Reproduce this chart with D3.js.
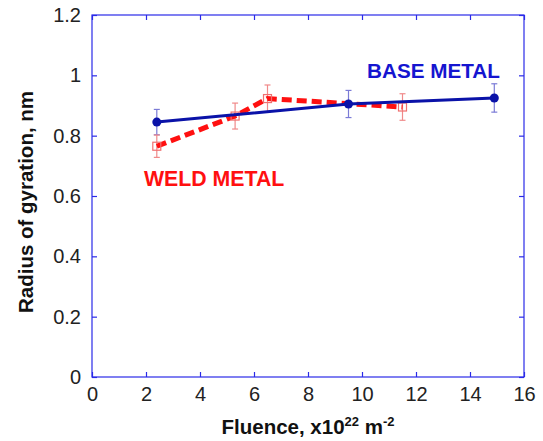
<!DOCTYPE html>
<html><head><meta charset="utf-8">
<script src="https://cdn.jsdelivr.net/npm/d3@7"></script>
<style>body{margin:0;background:#fff}svg{display:block}</style>
</head><body>
<script>
const xTicks = [0,2,4,6,8,10,12,14,16];
const yTicks = [0,0.2,0.4,0.6,0.8,1,1.2];
const yTickLabels = ["0","0.2","0.4","0.6","0.8","1","1.2"];
const baseX = [2.4, 9.5, 14.9];
const baseY = [0.845, 0.905, 0.925];
const baseErr = [0.042, 0.045, 0.047];
const weldX = [2.4, 5.3, 6.5, 11.5];
const weldY = [0.765, 0.865, 0.923, 0.895];
const weldErr = [0.037, 0.043, 0.045, 0.044];

const W = 543, H = 441;
const m = {l:92, r:19, t:15, b:64};
const svg = d3.select("body").append("svg").attr("width",W).attr("height",H);
const x = d3.scaleLinear().domain([0,16]).range([m.l, W-m.r]);
const y = d3.scaleLinear().domain([0,1.2]).range([H-m.b, m.t]);
const frame = "#2a2ae8";
const font = "Arial, 'Liberation Sans', sans-serif";

svg.append("rect").attr("x",x(0)).attr("y",y(1.2)).attr("width",x(16)-x(0)).attr("height",y(0)-y(1.2))
  .attr("fill","none").attr("stroke",frame).attr("stroke-width",1.2);

const ax = (g)=>{g.selectAll(".domain").remove(); g.selectAll("line").attr("stroke",frame).attr("stroke-width",1.2);};
svg.append("g").attr("transform",`translate(0,${y(0)})`).call(d3.axisBottom(x).tickValues(xTicks).tickSize(-5).tickPadding(10).tickFormat(d3.format("d"))).call(ax)
  .selectAll("text").attr("font-size",20).attr("font-family",font).attr("fill","#222");
svg.append("g").attr("transform",`translate(0,${y(1.2)})`).call(d3.axisTop(x).tickValues(xTicks).tickSize(-5).tickFormat("")).call(ax);
svg.append("g").attr("transform",`translate(${x(0)},0)`).call(d3.axisLeft(y).tickValues(yTicks).tickSize(-5).tickPadding(11).tickFormat((d,i)=>yTickLabels[i])).call(ax)
  .selectAll("text").attr("font-size",20).attr("font-family",font).attr("fill","#222");
svg.append("g").attr("transform",`translate(${x(16)},0)`).call(d3.axisRight(y).tickValues(yTicks).tickSize(-5).tickFormat("")).call(ax);

const base = baseX.map((v,i)=>({x:v,y:baseY[i],e:baseErr[i]}));
const weld = weldX.map((v,i)=>({x:v,y:weldY[i],e:weldErr[i]}));

function errBars(data, color){
  const g = svg.append("g").attr("stroke",color).attr("stroke-width",1.2);
  data.forEach(d=>{
    g.append("line").attr("x1",x(d.x)).attr("x2",x(d.x)).attr("y1",y(d.y-d.e)).attr("y2",y(d.y+d.e));
    [d.y-d.e,d.y+d.e].forEach(v=>g.append("line").attr("x1",x(d.x)-3).attr("x2",x(d.x)+3).attr("y1",y(v)).attr("y2",y(v)));
  });
}
errBars(base,"#7b7bd6");
errBars(weld,"#f08a8a");

const line = d3.line().x(d=>x(d.x)).y(d=>y(d.y));
svg.append("path").datum(weld).attr("d",line).attr("fill","none").attr("stroke","#ff1010").attr("stroke-width",5).attr("stroke-dasharray","10,5");
svg.selectAll(".sq").data(weld).enter().append("rect").attr("x",d=>x(d.x)-4).attr("y",d=>y(d.y)-4).attr("width",8).attr("height",8)
  .attr("fill","none").attr("stroke","#f07070").attr("stroke-width",1.2);
svg.append("path").datum(base).attr("d",line).attr("fill","none").attr("stroke","#0a12a8").attr("stroke-width",3);
svg.selectAll(".ci").data(base).enter().append("circle").attr("cx",d=>x(d.x)).attr("cy",d=>y(d.y)).attr("r",4.5).attr("fill","#0a12a8");

svg.append("text").attr("x",367).attr("y",78).attr("font-family",font).attr("font-weight","bold").attr("font-size",20.7).attr("fill","#1515d0").text("BASE METAL");
svg.append("text").attr("x",144).attr("y",186).attr("font-family",font).attr("font-weight","bold").attr("font-size",21.3).attr("fill","#ff1010").text("WELD METAL");

const xt = svg.append("text").attr("x",308).attr("y",434).attr("text-anchor","middle").attr("font-family",font).attr("font-weight","bold").attr("font-size",20.5).attr("fill","#111");
xt.append("tspan").text("Fluence, x10");
xt.append("tspan").attr("dy",-8).attr("font-size",13).text("22");
xt.append("tspan").attr("dy",8).text(" m");
xt.append("tspan").attr("dy",-8).attr("font-size",13).text("-2");
svg.append("text").attr("transform","translate(33,202) rotate(-90)").attr("text-anchor","middle").attr("font-family",font).attr("font-weight","bold").attr("font-size",20.5).attr("fill","#111").text("Radius of gyration, nm");
</script>
</body></html>
